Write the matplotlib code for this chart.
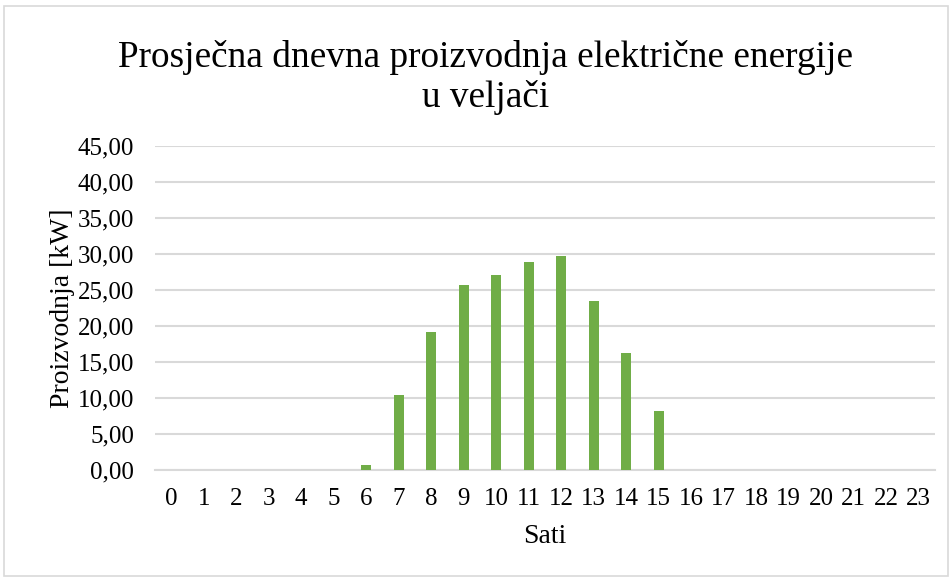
import matplotlib.pyplot as plt
from matplotlib.patches import Rectangle

plt.rcParams['font.family'] = ['Liberation Serif', 'DejaVu Serif']

# data
sati = list(range(24))
proizvodnja = [0, 0, 0, 0, 0, 0, 0.70, 10.37, 19.12, 25.74, 27.08, 28.84,
               29.72, 23.43, 16.25, 8.24, 0, 0, 0, 0, 0, 0, 0, 0]
y_ticks = [0, 5, 10, 15, 20, 25, 30, 35, 40, 45]

fig = plt.figure(figsize=(9.53, 5.8), dpi=100)
ax = fig.add_axes([155 / 953, 1 - 470 / 580, 780 / 953, 324 / 580])

ax.bar(sati, proizvodnja, width=0.31, color='#70AD47', zorder=3)

ax.set_xlim(-0.5, 23.5)
ax.set_ylim(0, 45)
ax.set_yticks(y_ticks)
ax.set_yticklabels([('%.2f' % v).replace('.', ',') for v in y_ticks], fontsize=18)
ax.set_xticks(sati)
ax.set_xticklabels([str(s) for s in sati], fontsize=18)
ax.tick_params(axis='both', length=0)
ax.tick_params(axis='y', pad=15)
ax.tick_params(axis='x', pad=13)

ax.grid(axis='y', color='#D9D9D9', linewidth=1.5, zorder=0)
for s in ['top', 'right', 'left']:
    ax.spines[s].set_visible(False)
ax.spines['bottom'].set_color('#D9D9D9')
ax.spines['bottom'].set_linewidth(1.5)

ax.set_xlabel('Sati', fontsize=20, labelpad=10)
ax.set_ylabel('Proizvodnja [kW]', fontsize=20, labelpad=2)

fig.text(486 / 953, 1 - 115 / 580, 'Prosječna dnevna proizvodnja električne energije\nu veljači',
         ha='center', va='bottom', fontsize=26.8, linespacing=1.2)

fig.patches.append(Rectangle((4 / 953, 4 / 580), 944 / 953, 570 / 580, transform=fig.transFigure,
                             fill=False, edgecolor='#D9D9D9', linewidth=1.2))

fig.savefig('out.png', dpi=100)
